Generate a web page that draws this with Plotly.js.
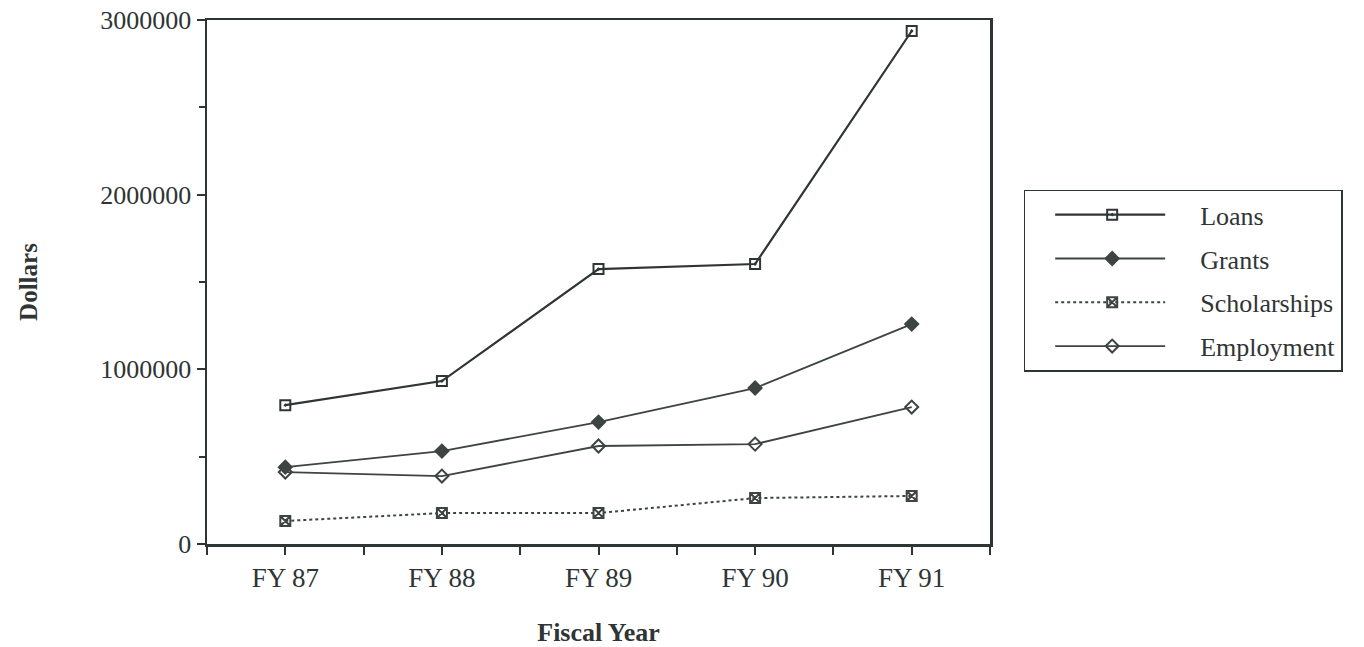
<!DOCTYPE html>
<html>
<head>
<meta charset="utf-8">
<script src="https://cdn.plot.ly/plotly-3.0.1.min.js"></script>
<style>html,body{margin:0;padding:0;background:#fff;}#chart{width:1364px;height:647px;}</style>
</head>
<body>
<div id="chart"></div>
<script>
const years = ["FY 87", "FY 88", "FY 89", "FY 90", "FY 91"];
const loans = [795000, 933000, 1574000, 1603000, 2937000];
const grants = [440000, 532000, 698000, 893000, 1259000];
const scholarships = [132000, 177000, 177000, 263000, 275000];
const employment = [412000, 389000, 561000, 572000, 784000];

const xIdx = years.map((_, i) => i);
const ink = "#2f3434";
const font = "Liberation Serif, Times New Roman, serif";

function mk(name, y, sym, dash, color, width, group) {
  return {
    type: "scatter", mode: "lines+markers", name: name, x: xIdx, y: y,
    legendgroup: group,
    line: {color: color, width: width, dash: dash},
    marker: {symbol: sym, size: 10, color: color, line: {color: color, width: 2}}
  };
}

const data = [
  mk("Loans", loans, "square-open-dot", "solid", ink, 2.2, "a"),
  mk("Grants", grants, "diamond", "solid", "#3e4444", 1.8, "b"),
  mk("Scholarships", scholarships, "square-x-open", "dot", "#3e4444", 2, "c"),
  mk("Employment", employment, "diamond-open", "solid", "#3e4444", 1.8, "d")
];

const layout = {
  width: 1364, height: 647,
  margin: {l: 207, r: 374, t: 20, b: 103},
  paper_bgcolor: "#fff", plot_bgcolor: "#fff",
  font: {family: font, size: 26, color: ink},
  showlegend: true,
  legend: {
    x: 1.043, y: 0.676, xanchor: "left", yanchor: "top",
    bordercolor: ink, borderwidth: 1.5, bgcolor: "#fff",
    font: {family: font, size: 26, color: ink},
    traceorder: "grouped", tracegroupgap: 7, itemwidth: 165
  },
  xaxis: {
    range: [-0.5, 4.5],
    tickmode: "array", tickvals: xIdx, ticktext: years,
    ticks: "outside", ticklen: 8, tickwidth: 2, tickcolor: ink,
    minor: {tickvals: [-0.5, 0.5, 1.5, 2.5, 3.5, 4.5], ticks: "outside", ticklen: 8, tickwidth: 2, tickcolor: ink},
    showline: true, linecolor: ink, linewidth: 2.5, mirror: true,
    showgrid: false, zeroline: false,
    tickfont: {family: font, size: 27, color: ink},
    title: {text: "<b>Fiscal Year</b>", font: {family: font, size: 26, color: ink}, standoff: 34}
  },
  yaxis: {
    range: [0, 3000000],
    tickmode: "array", tickvals: [0, 1000000, 2000000, 3000000],
    ticktext: ["0", "1000000", "2000000", "3000000"],
    ticks: "outside", ticklen: 8, tickwidth: 2, tickcolor: ink,
    minor: {tickvals: [500000, 1500000, 2500000], ticks: "outside", ticklen: 6, tickwidth: 2, tickcolor: ink},
    showline: true, linecolor: ink, linewidth: 2.5, mirror: true,
    showgrid: false, zeroline: false,
    tickfont: {family: font, size: 26, color: ink},
    title: {text: "<b>Dollars</b>", font: {family: font, size: 25, color: ink}, standoff: 56}
  }
};

Plotly.newPlot("chart", data, layout, {displayModeBar: false, staticPlot: true}).then(function (gd) {
  // lengthen legend sample lines to match the original legend style
  gd.querySelectorAll(".legend .legendlines path").forEach(function (p) {
    p.setAttribute("d", "M30,0h110");
  });
  gd.querySelectorAll(".legend .legendpoints path.scatterpts").forEach(function (p) {
    p.setAttribute("transform", "translate(87,0)");
  });
});
</script>
</body>
</html>
